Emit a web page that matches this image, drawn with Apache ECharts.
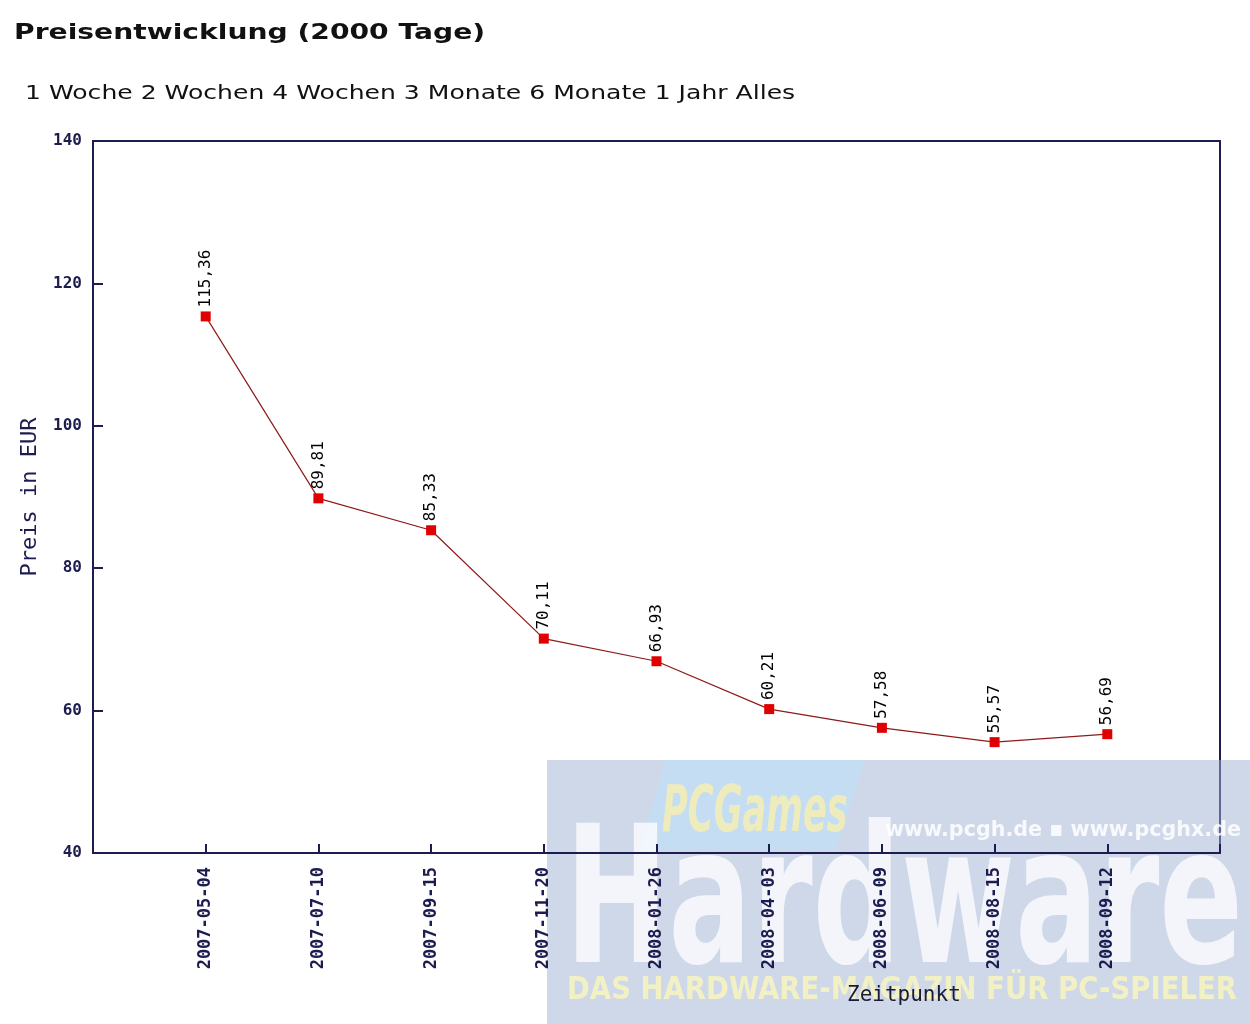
<!DOCTYPE html>
<html>
<head>
<meta charset="utf-8">
<script src="https://cdn.jsdelivr.net/npm/echarts@6/dist/echarts.min.js"></script>
<style>
    html, body { margin: 0; padding: 0; background: #fff; }
    #chart { width: 1250px; height: 1024px; }
</style>
</head>
<body>
<div id="chart"></div>
<script>
// Preisverlauf, Werte
var dates = ['2007-05-04', '2007-07-10', '2007-09-15', '2007-11-20', '2008-01-26',
    '2008-04-03', '2008-06-09', '2008-08-15', '2008-09-12'];
var prices = [115.36, 89.81, 85.33, 70.11, 66.93, 60.21, 57.58, 55.57, 56.69];
var yTicks = [40, 60, 80, 100, 120, 140];

var navy = '#1c1c50';
var mono = '"DejaVu Sans Mono", monospace';

var points = [];
for (var i = 0; i < prices.length; i++) {
    points.push([i + 1, prices[i]]);
}

var chart = echarts.init(document.getElementById('chart'));
var options = {
    backgroundColor: '#fff',
    animation: false,
    grid: {
        left: 93,
        right: 30,
        top: 141,
        bottom: 171,
        show: true,
        borderColor: navy,
        borderWidth: 2
    },
    xAxis: {
        type: 'value',
        min: 0,
        max: dates.length + 1,
        interval: 1,
        splitLine: { show: false },
        axisLine: { lineStyle: { color: navy, width: 2 } },
        axisTick: { inside: true, length: 9, lineStyle: { color: navy, width: 2 } },
        axisLabel: {
            rotate: 90,
            margin: 14,
            color: navy,
            fontFamily: mono,
            fontWeight: 'bold',
            fontSize: 17,
            formatter: function (v) {
                return dates[v - 1] || '';
            }
        }
    },
    yAxis: {
        type: 'value',
        min: yTicks[0],
        max: yTicks[yTicks.length - 1],
        interval: 20,
        name: 'Preis in EUR',
        nameLocation: 'middle',
        nameGap: 52,
        nameTextStyle: { color: navy, fontFamily: mono, fontSize: 22 },
        splitLine: { show: false },
        axisLine: { lineStyle: { color: navy, width: 2 } },
        axisTick: { inside: true, length: 10, lineStyle: { color: navy, width: 2 } },
        axisLabel: {
            margin: 11,
            color: navy,
            fontFamily: mono,
            fontWeight: 'bold',
            fontSize: 16
        }
    },
    graphic: [
        {
            type: 'text', x: 14, y: 22, scaleX: 1.28,
            style: { text: 'Preisentwicklung (2000 Tage)', font: 'bold 22px "DejaVu Sans"', fill: '#111' }
        },
        {
            type: 'text', x: 25, y: 85, scaleX: 1.32,
            style: { text: '1 Woche 2 Wochen 4 Wochen 3 Monate 6 Monate 1 Jahr Alles', font: '19px "DejaVu Sans"', fill: '#111' }
        },
        // Wasserzeichen unten rechts
        {
            type: 'group', z: 100,
            children: [
                { type: 'rect', shape: { x: 547, y: 760, width: 703, height: 264 },
                  style: { fill: 'rgba(160,178,212,0.5)' } },
                { type: 'polygon', shape: { points: [[665, 760], [865, 760], [835, 850], [640, 850]] },
                  style: { fill: 'rgba(190,225,250,0.55)' } },
                { type: 'text', x: 662, y: 782, scaleX: 0.55,
                  style: { text: 'PCGames', font: 'italic bold 64px "DejaVu Sans"', fill: 'rgba(245,238,180,0.85)' } },
                { type: 'text', x: 885, y: 819, scaleX: 0.94,
                  style: { text: 'www.pcgh.de \u25aa www.pcghx.de', font: 'bold 22px "DejaVu Sans"', fill: 'rgba(255,255,255,0.85)' } },
                { type: 'text', x: 565, y: 818, scaleX: 0.65,
                  style: { text: 'Hardware', font: 'bold 190px "DejaVu Sans"', fill: 'rgba(255,255,255,0.75)' } },
                { type: 'text', x: 567, y: 975, scaleX: 0.86,
                  style: { text: 'DAS HARDWARE-MAGAZIN F\u00dcR PC-SPIELER', font: 'bold 32px "DejaVu Sans"', fill: 'rgba(248,244,190,0.85)' } }
            ]
        },
        {
            type: 'text', x: 847, y: 985, z: 110,
            style: { text: 'Zeitpunkt', font: '21px "DejaVu Sans Mono"', fill: '#1a1a3a' }
        }
    ],
    series: [
        {
            type: 'line',
            data: points,
            symbol: 'rect',
            symbolSize: 10,
            itemStyle: { color: '#e00000' },
            lineStyle: { color: '#8e1a1a', width: 1.2 },
            label: {
                show: true,
                position: 'top',
                rotate: 90,
                align: 'left',
                verticalAlign: 'middle',
                distance: 4,
                color: '#000',
                fontFamily: mono,
                fontSize: 16,
                formatter: function (p) {
                    return p.value[1].toFixed(2).replace('.', ',');
                }
            }
        }
    ]
};
chart.setOption(options);
</script>
</body>
</html>
